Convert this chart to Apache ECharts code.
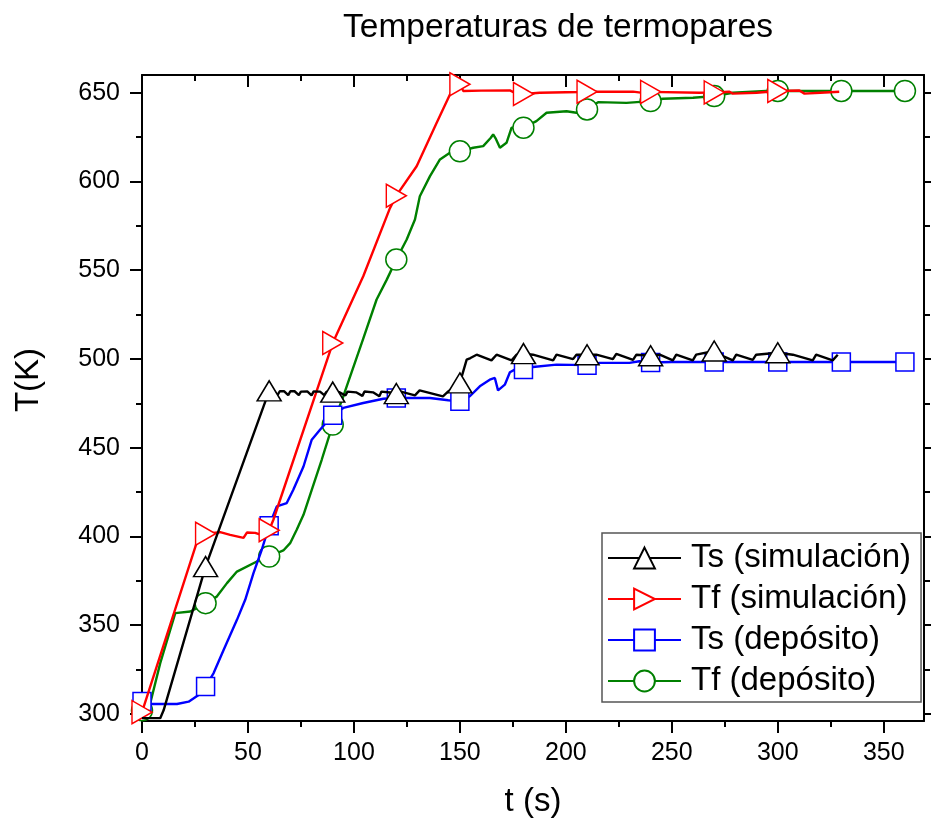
<!DOCTYPE html>
<html><head><meta charset="utf-8">
<script src="https://cdn.jsdelivr.net/npm/echarts@6/dist/echarts.min.js"></script>
<style>html,body{margin:0;padding:0;background:#fff}#c{width:931px;height:823px}</style>
</head><body><div id="c"></div>
<script>
const FONT = 'Liberation Sans, Arial, Helvetica, sans-serif';
const titleText = 'Temperaturas de termopares';
const seriesNames = ['Ts (simulación)', 'Tf (simulación)', 'Ts (depósito)', 'Tf (depósito)'];
const xMajor = [0, 50, 100, 150, 200, 250, 300, 350];
const xMinor = [25, 75, 125, 175, 225, 275, 325];
const yMajor = [300, 350, 400, 450, 500, 550, 600, 650];
const yMinor = [325, 375, 425, 475, 525, 575, 625];

// Ts (simulación) [t, T]
const tsSim = [[0,297.6],[8.6,297.6],[10.2,302],[30,383],[60,482],[62,482],[64,479.7],[65,481.8],[67,481.9],[69,479.6],[70,481.8],[72,481.8],[74,479.6],[75,481.6],[78,481.7],[80,479.5],[81,481.7],[84,481.6],[86,479.6],[87,481.5],[90,481.3],[93,481.3],[96,479.4],[97,481.6],[101,481.2],[104,479.2],[105,481.7],[109,481.2],[112,479],[113,481.6],[117,481.1],[120,480.5],[121.7,481.7],[128.8,479.5],[131,482.3],[142,478.9],[144.5,481.7],[150,486.5],[153.2,499.6],[155,500.5],[157.9,502.4],[164.9,499.2],[167.3,502.4],[174.4,499.2],[176.7,502.4],[180,503],[184.5,502.4],[194,499.2],[195.6,502.4],[203.4,499.9],[205,502.4],[210,502.4],[214.4,502.4],[222.2,499.9],[223.8,502.9],[231.7,499.5],[233.3,502.4],[240,501.8],[244.3,502.4],[250.5,499.2],[252.1,502.4],[259.9,499.2],[261.5,502.4],[270,504.5],[272.5,502.4],[278.8,499.2],[280.4,502.4],[288.2,499.5],[289.8,502.4],[300,503.5],[307.1,502.4],[316.5,499.2],[318.1,502.4],[325.9,499.2],[328.3,502.4]];
const tsSimMarks = [30, 60, 90, 120, 150, 180, 210, 240, 270, 300];

// Tf (simulación)
const tfSim = [[0,301],[26.5,399],[30,401.5],[36.9,402.4],[41.6,400.9],[47.9,399.2],[49.5,402.2],[53.4,402],[57.3,400.4],[60,403.5],[62,409.4],[88.7,504.3],[90,509],[104.4,546.6],[117,585],[120,592],[129.6,608.6],[139,633],[146.8,652.8],[150,654.8],[151.6,651],[160,651.2],[173.6,651.3],[176.7,649.5],[180,649.3],[187.7,650],[200,650.3],[206.5,650.4],[210,650.6],[231.7,650.6],[239,649.5],[240,650.5],[263,650],[270,650.2],[277.2,650.6],[278.8,649.5],[290,650],[300,651],[310.2,651.3],[312.6,649.5],[320,650],[329,650.6]];
const tfSimMarks = [0, 30, 60, 90, 120, 150, 180, 210, 240, 270, 300];

// Ts (depósito)
const tsDep = [[0,307],[3,305.6],[16.5,305.6],[22,306.9],[26.7,310.7],[30,315.4],[33.8,323],[38.5,336],[44.8,353],[48.7,364.3],[52.6,379.3],[56.5,392.5],[60,406],[63.6,416.9],[68.3,418.8],[71.4,426.3],[76.2,439.4],[80.1,454.5],[84,460.1],[90,468.3],[95,472.4],[104.4,475.2],[113.9,477.6],[120,478],[135.9,478],[144.5,476.7],[150,476.1],[154.7,479],[159.4,484.6],[164.1,488.3],[166.5,489.3],[168,482.3],[171.2,485.5],[173.6,492.5],[175.9,494],[180,494],[184.5,495.5],[195.6,496.8],[210,496.5],[216,497.8],[230,497.8],[234.7,498.7],[240,498],[250,498.3],[270,498.3],[300,498.3],[330,498.3],[360,498.3]];
const tsDepMarks = [0, 30, 60, 90, 120, 150, 180, 210, 240, 270, 300, 330, 360];

// Tf (depósito)
const tfDep = [[0,302],[3.9,306],[8.6,328.6],[15.7,356.8],[22.8,357.7],[25.9,359.6],[30,362.4],[35.3,366.1],[40.1,373.7],[44.8,380.2],[54.2,385.9],[60,388.7],[66.7,392.1],[69.9,396.2],[73,403.8],[76.2,412.2],[80.1,426.3],[84.8,443.2],[90,463],[95,479],[104.4,511.5],[110.7,533.5],[115.5,544.7],[120,556],[124.9,567.3],[128.8,578.6],[131.1,591.7],[135.9,603],[140.6,612.4],[145.3,616.2],[150,617],[156.3,619],[161,619.9],[164.5,624.5],[165.7,626.5],[167,624],[168.9,619],[172,621.8],[174.4,630.3],[180,630.3],[186.1,634],[190.9,638.7],[200.3,639.6],[205,638.7],[210,640.6],[215.2,644.7],[228.6,644.3],[240,645.3],[245.8,646.6],[260,647.2],[270,648.1],[278.8,650],[294.5,651],[300,651],[330,651],[360,651]];
const tfDepMarks = [0, 30, 60, 90, 120, 150, 180, 210, 240, 270, 300, 330, 360];

function build(pts, marks) {
  return pts.map(p => marks.indexOf(p[0]) >= 0 ? { value: p } : { value: p, symbol: 'none' });
}

const chart = echarts.init(document.getElementById('c'), null, { renderer: 'canvas' });
const axisLineStyle = { color: '#000', width: 2 };
const tickStyle = { color: '#000', width: 2 };
const X_MIN = 0, X_MAX = 369, Y_MIN = 296, Y_MAX = 660;

function xAx(pos, vals, len, inside, showLine, labels) {
  return {
    type: 'value', min: X_MIN, max: X_MAX, position: pos, gridIndex: 0,
    axisLine: { show: showLine, onZero: false, lineStyle: axisLineStyle },
    axisTick: { show: true, customValues: vals, length: len, inside: inside, lineStyle: tickStyle },
    axisLabel: labels ? { show: true, customValues: vals, fontSize: 25, color: '#000', fontFamily: FONT, margin: 20 } : { show: false },
    splitLine: { show: false }
  };
}
function yAx(pos, vals, len, inside, showLine, labels) {
  return {
    type: 'value', min: Y_MIN, max: Y_MAX, position: pos, gridIndex: 0,
    axisLine: { show: showLine, onZero: false, lineStyle: axisLineStyle },
    axisTick: { show: true, customValues: vals, length: len, inside: inside, lineStyle: tickStyle },
    axisLabel: labels ? { show: true, customValues: vals, fontSize: 25, color: '#000', fontFamily: FONT, margin: 22 } : { show: false },
    splitLine: { show: false }
  };
}

const xAxes = [
  Object.assign(xAx('bottom', xMajor, 12, false, true, true), {
    name: 't (s)', nameLocation: 'middle', nameGap: 64,
    nameTextStyle: { fontSize: 33, color: '#000', fontFamily: FONT }
  }),
  xAx('bottom', xMinor, 6, false, false, false),
  xAx('top', xMajor, 12, true, true, false),
  xAx('top', xMinor, 6, true, false, false)
];
const yAxes = [
  Object.assign(yAx('left', yMajor, 12, false, true, true), {
    name: 'T(K)', nameLocation: 'middle', nameGap: 97,
    nameTextStyle: { fontSize: 33, color: '#000', fontFamily: FONT, padding: [0, 0, 0, 36] }
  }),
  yAx('left', yMinor, 6, false, false, false),
  yAx('right', yMajor, 12, false, true, false),
  yAx('right', yMinor, 6, false, false, false)
];

function lineSeries(name, pts, marks, color, symbol, size, z) {
  return {
    name: name, type: 'line', xAxisIndex: 0, yAxisIndex: 0,
    data: build(pts, marks),
    symbol: symbol, symbolSize: size, showSymbol: true, showAllSymbol: true,
    itemStyle: { color: '#fff', borderColor: color, borderWidth: 1.5 },
    lineStyle: { color: color, width: 2.4 },
    z: z, clip: true, animation: false,
    emphasis: { disabled: true }
  };
}

chart.setOption({
  backgroundColor: '#fff',
  animation: false,
  title: {
    text: titleText, left: 343, top: 11, padding: 0,
    textStyle: { fontSize: 33.5, fontWeight: 'normal', color: '#000', fontFamily: FONT }
  },
  grid: { left: 142, right: 7, top: 75, bottom: 102, containLabel: false },
  xAxis: xAxes,
  yAxis: yAxes,
  legend: {
    orient: 'vertical', left: 602, top: 533,
    padding: [8, 10, 4, 5], itemGap: 7, itemWidth: 73, itemHeight: 26,
    borderColor: '#555', borderWidth: 1.5, backgroundColor: '#fff',
    textStyle: { fontSize: 33, lineHeight: 34, color: '#000', fontFamily: FONT, padding: [0, 0, 0, 5] },
    data: seriesNames, selectedMode: false
  },
  series: [
    lineSeries(seriesNames[0], tsSim, tsSimMarks, '#000000', 'triangle', [24, 20], 6),
    lineSeries(seriesNames[1], tfSim, tfSimMarks, '#ff0000', 'path://M0,0L10,5L0,10Z', [20, 23], 5),
    lineSeries(seriesNames[2], tsDep, tsDepMarks, '#0000ff', 'rect', [18, 18], 4),
    lineSeries(seriesNames[3], tfDep, tfDepMarks, '#008000', 'circle', [21, 21], 3)
  ]
});
</script>
</body></html>
